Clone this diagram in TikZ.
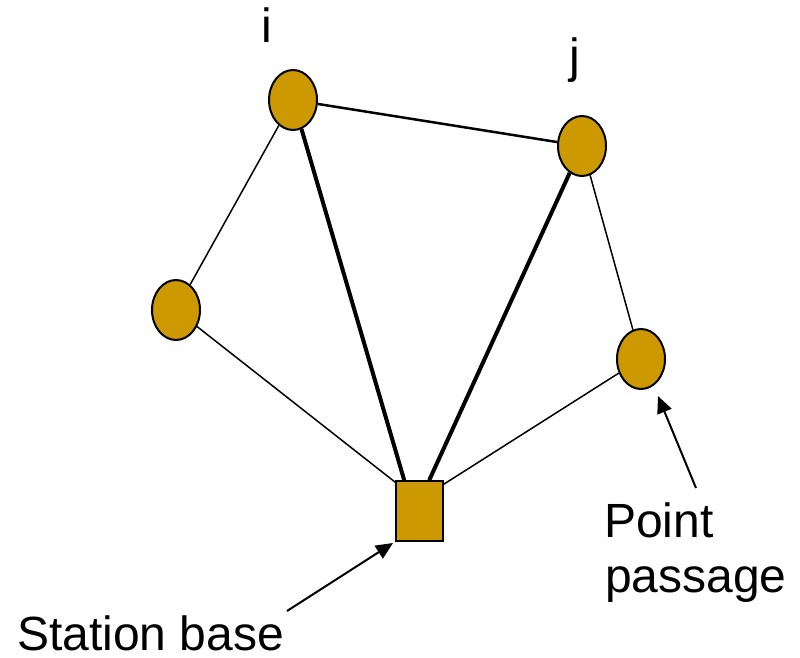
\documentclass[tikz,border=0pt]{standalone}
\usepackage{fontspec}
\setmainfont{Liberation Sans}
\usetikzlibrary{shapes.geometric,arrows.meta,calc}
\definecolor{gold}{RGB}{204,153,0}
\begin{document}
\begin{tikzpicture}[x=1pt,y=-1pt,
  pass/.style={ellipse,draw=black,line width=2pt,fill=gold,inner sep=0pt,
    minimum width=48pt,minimum height=60pt},
  base/.style={rectangle,draw=black,line width=1.6pt,fill=gold,inner sep=0pt,
    minimum width=47pt,minimum height=60pt},
  thin/.style={line width=1.5pt},
  mid/.style={line width=2.5pt},
  thick/.style={line width=4pt},
  pointer/.style={line width=2pt,-{Triangle[length=17pt,width=15pt]}},
  lbl/.style={inner sep=0pt,font=\fontsize{48}{55}\selectfont,anchor=base west}]
  \useasboundingbox (0,0) rectangle (800,658);

  % stations of the route
  \node[pass] (i) at (293,100) {};
  \node[pass] (j) at (582,146) {};
  \node[pass] (l) at (176,310) {};
  \node[pass] (r) at (641,359) {};
  \node[base] (sq) at (419.5,511) {};

  % links
  \draw[thin] (l) -- ($(sq.north west)+(0,2)$);
  \draw[thin] (r) -- ($(sq.north east)+(0,4)$);
  \draw[thin] (l) -- (i);
  \draw[mid] (i) -- (j);
  \draw[thin] (j) -- (r);
  \draw[thick] (i) -- ($(sq.north west)+(9,0)$);
  \draw[thick] (j) -- ($(sq.north west)+(34,0)$);

  % labels
  \node[lbl] (li) at (261,43) {i};
  \node[lbl] (lj) at (569,73) {j};
  \node[lbl] (sb) at (17,650) {Station base};
  \node[lbl] (p1) at (604,537) {Point};
  \node[lbl] (p2) at (605,592) {passage};

  % pointers
  \coordinate (sbfrom) at (287,611);
  \coordinate (sbto) at (393,543);
  \coordinate (ppfrom) at (696,488);
  \coordinate (ppto) at (658,396);
  \draw[pointer] (sbfrom) -- (sbto);
  \draw[pointer] (ppfrom) -- (ppto);
\end{tikzpicture}
\end{document}
